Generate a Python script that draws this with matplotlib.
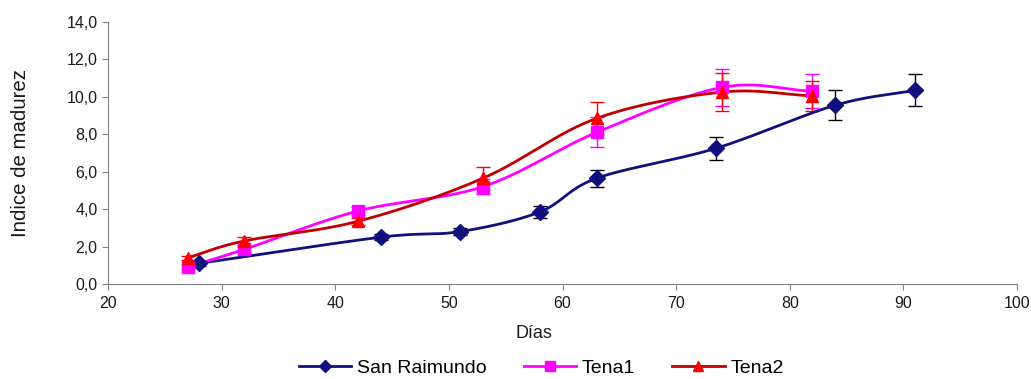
import numpy as np
import matplotlib
matplotlib.use("Agg")
import matplotlib.pyplot as plt
from matplotlib.ticker import FuncFormatter

plt.rcParams['font.family'] = ['Liberation Sans', 'DejaVu Sans']

# Data
sr_x = [28, 44, 51, 58, 63, 73.5, 84, 91]
sr_y = [1.1, 2.5, 2.8, 3.85, 5.65, 7.25, 9.55, 10.35]
sr_e = [0.15, 0.15, 0.2, 0.3, 0.45, 0.6, 0.8, 0.85]

t1_x = [27, 32, 42, 53, 63, 74, 82]
t1_y = [0.9, 1.85, 3.9, 5.2, 8.1, 10.5, 10.3]
t1_e = [0.1, 0.15, 0.2, 0.4, 0.8, 1.0, 0.9]

t2_x = [27, 32, 42, 53, 63, 74, 82]
t2_y = [1.4, 2.3, 3.35, 5.65, 8.85, 10.25, 10.05]
t2_e = [0.1, 0.2, 0.2, 0.6, 0.9, 1.0, 0.8]

labels = ["San Raimundo", "Tena1", "Tena2"]


def smooth(x, y, n=30):
    # Catmull-Rom style smoothing (like Excel smoothed lines)
    x = np.asarray(x, float); y = np.asarray(y, float)
    px = np.concatenate([[2 * x[0] - x[1]], x, [2 * x[-1] - x[-2]]])
    py = np.concatenate([[2 * y[0] - y[1]], y, [2 * y[-1] - y[-2]]])
    ox, oy = [], []
    t = np.linspace(0, 1, n)
    for i in range(1, len(px) - 2):
        p0, p1, p2, p3 = [np.array([px[j], py[j]]) for j in (i - 1, i, i + 1, i + 2)]
        m1 = (p2 - p0) / 6.0
        m2 = (p3 - p1) / 6.0
        b1 = p1 + m1
        b2 = p2 - m2
        for tt in t:
            pt = ((1 - tt) ** 3) * p1 + 3 * ((1 - tt) ** 2) * tt * b1 + 3 * (1 - tt) * tt ** 2 * b2 + tt ** 3 * p2
            ox.append(pt[0]); oy.append(pt[1])
    return ox, oy


fig = plt.figure(figsize=(10.31, 3.79), dpi=100)
ax = fig.add_axes([0.1048, 0.2507, 0.8816, 0.6913])

series = [
    (sr_x, sr_y, sr_e, '#10107f', '#10107f', 'D', 8, 'black'),
    (t1_x, t1_y, t1_e, '#ff00ff', '#ff00ff', 's', 8, '#ff00ff'),
    (t2_x, t2_y, t2_e, '#c00000', '#ff0000', '^', 9, '#ff0000'),
]
handles = []
for (x, y, e, lc, mc, mk, ms, ec), lab in zip(series, labels):
    ax.errorbar(x, y, yerr=e, fmt='none', ecolor=ec, elinewidth=1, capsize=5, capthick=1, zorder=2)
    sx, sy = smooth(x, y)
    ax.plot(sx, sy, color=lc, lw=2, zorder=3)
    ax.plot(x, y, linestyle='none', marker=mk, color=mc, markersize=ms, zorder=4)
    h, = ax.plot([], [], color=lc, lw=2, marker=mk, markerfacecolor=mc, markeredgecolor=mc, markersize=ms - 1.5)
    handles.append(h)

ax.set_xlim(20, 100)
ax.set_ylim(0, 14)
ax.set_xticks(range(20, 101, 10))
ax.set_yticks(np.arange(0, 14.1, 2))
ax.yaxis.set_major_formatter(FuncFormatter(lambda v, p: f"{v:.1f}".replace('.', ',')))
for s in ['top', 'right']:
    ax.spines[s].set_visible(False)
for s in ['left', 'bottom']:
    ax.spines[s].set_color('#808080')
ax.tick_params(axis='both', colors='#808080', labelcolor='#1a1a1a', labelsize=11.5, length=4, direction='out')
ax.tick_params(axis='x', pad=5)
ax.set_ylabel("Indice de madurez", fontsize=14.7, color='#1a1a1a', labelpad=26)
ax.set_xlabel("Días", fontsize=13, color='#1a1a1a')
ax.xaxis.set_label_coords(0.4686, -0.155)

fig.legend(handles, labels, loc='center', bbox_to_anchor=(0.525, 0.028), ncol=3, frameon=False,
           fontsize=14, handlelength=2.7, columnspacing=1.9, handletextpad=0.3)

fig.savefig("out.png", dpi=100)
